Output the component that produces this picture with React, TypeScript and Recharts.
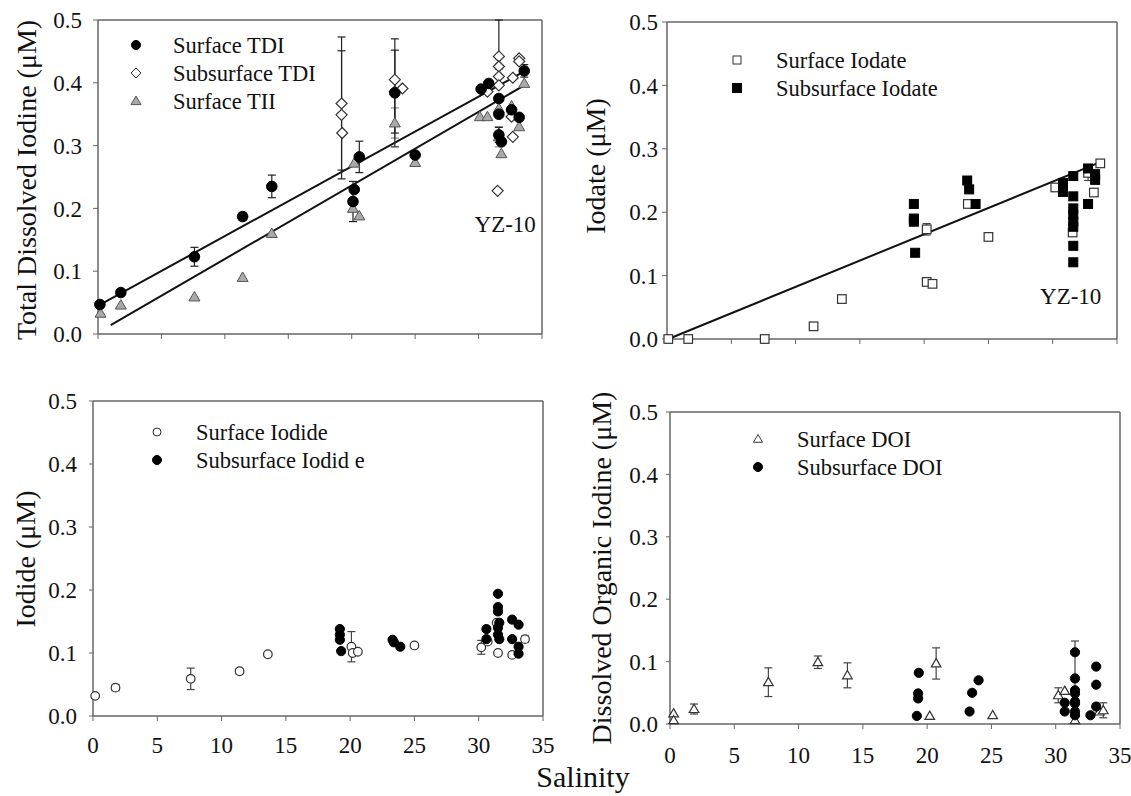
import React from 'react';
import {
  ScatterChart,
  Scatter,
  XAxis,
  YAxis,
  ErrorBar,
  ReferenceLine,
  ReferenceDot,
  Legend,
} from 'recharts';

type P = { s: number; v: number; e?: number | [number, number] };

const xTicks = [0, 5, 10, 15, 20, 25, 30, 35];
const yTicks = [0, 0.1, 0.2, 0.3, 0.4, 0.5];

// Panel 1: Total dissolved iodine
const surfaceTDI: P[] = [
  { s: 0.15, v: 0.047, e: 0.004 }, { s: 1.8, v: 0.066, e: 0.004 }, { s: 7.6, v: 0.123, e: 0.015 },
  { s: 11.4, v: 0.187, e: 0.006 }, { s: 13.7, v: 0.235, e: 0.018 }, { s: 20.2, v: 0.23 },
  { s: 20.1, v: 0.211, e: 0.032 }, { s: 20.6, v: 0.282, e: 0.025 }, { s: 23.4, v: 0.384, e: 0.086 },
  { s: 25.0, v: 0.285, e: 0.004 }, { s: 30.2, v: 0.39 }, { s: 30.8, v: 0.399 },
  { s: 31.6, v: 0.375 }, { s: 31.6, v: 0.35 }, { s: 31.6, v: 0.317, e: 0.012 },
  { s: 31.8, v: 0.306 }, { s: 32.6, v: 0.357 }, { s: 33.2, v: 0.345 }, { s: 33.6, v: 0.419, e: 0.01 },
];
const subsurfaceTDI: P[] = [
  { s: 19.2, v: 0.367, e: 0.106 }, { s: 19.2, v: 0.349, e: 0.102 }, { s: 19.25, v: 0.32 },
  { s: 23.4, v: 0.405 }, { s: 23.4, v: 0.386, e: 0.066 }, { s: 24.0, v: 0.391 },
  { s: 31.6, v: 0.442, e: [0.02, 0.058] }, { s: 31.6, v: 0.426 }, { s: 31.6, v: 0.41 },
  { s: 31.6, v: 0.396 }, { s: 30.7, v: 0.386 }, { s: 31.5, v: 0.228 },
  { s: 32.7, v: 0.408 }, { s: 33.2, v: 0.439 }, { s: 33.2, v: 0.434 },
  { s: 32.6, v: 0.346 }, { s: 32.7, v: 0.314 },
];
const surfaceTII: P[] = [
  { s: 0.2, v: 0.033 }, { s: 1.8, v: 0.046 }, { s: 7.6, v: 0.059 }, { s: 11.4, v: 0.09 },
  { s: 13.7, v: 0.16 }, { s: 20.2, v: 0.272 }, { s: 20.1, v: 0.2 }, { s: 20.6, v: 0.188 },
  { s: 23.4, v: 0.336, e: 0.024 }, { s: 25.0, v: 0.273 }, { s: 30.1, v: 0.346 },
  { s: 30.7, v: 0.346 }, { s: 31.6, v: 0.359 }, { s: 31.6, v: 0.314, e: 0.016 },
  { s: 31.8, v: 0.287 }, { s: 32.6, v: 0.363 }, { s: 33.2, v: 0.33 }, { s: 33.6, v: 0.399 },
];
const tdiFit = [{ x: 0.1, y: 0.046 }, { x: 33.6, y: 0.418 }];
const tiiFit = [{ x: 1.0, y: 0.014 }, { x: 33.6, y: 0.396 }];

// Panel 2: Iodate
const surfaceIodate: P[] = [
  { s: 0.1, v: 0 }, { s: 1.65, v: 0 }, { s: 7.6, v: 0 }, { s: 11.4, v: 0.02 },
  { s: 13.6, v: 0.063, e: 0.005 }, { s: 20.2, v: 0.173, e: 0.009 }, { s: 20.2, v: 0.09 },
  { s: 20.65, v: 0.087 }, { s: 23.4, v: 0.213 }, { s: 25.0, v: 0.161 }, { s: 30.2, v: 0.239 },
  { s: 31.55, v: 0.168 }, { s: 32.75, v: 0.262, e: 0.012 }, { s: 33.2, v: 0.231 }, { s: 33.7, v: 0.277 },
];
const subsurfaceIodate: P[] = [
  { s: 19.2, v: 0.213 }, { s: 19.2, v: 0.19 }, { s: 19.2, v: 0.185 }, { s: 19.3, v: 0.136 },
  { s: 23.35, v: 0.25 }, { s: 23.5, v: 0.236 }, { s: 24.0, v: 0.213 },
  { s: 30.8, v: 0.246 }, { s: 30.8, v: 0.232 },
  { s: 31.6, v: 0.257 }, { s: 31.6, v: 0.225 }, { s: 31.6, v: 0.206 }, { s: 31.6, v: 0.196 },
  { s: 31.6, v: 0.185 }, { s: 31.6, v: 0.177 }, { s: 31.6, v: 0.147 }, { s: 31.6, v: 0.121 },
  { s: 32.75, v: 0.269 }, { s: 32.75, v: 0.213 }, { s: 33.3, v: 0.26 }, { s: 33.3, v: 0.251 },
];
const iodateFit = [{ x: 0.1, y: 0.0 }, { x: 33.7, y: 0.279 }];

// Panel 3: Iodide
const surfaceIodide: P[] = [
  { s: 0.17, v: 0.032, e: 0.003 }, { s: 1.75, v: 0.045, e: 0.005 }, { s: 7.6, v: 0.059, e: 0.017 },
  { s: 11.4, v: 0.071, e: 0.004 }, { s: 13.6, v: 0.098, e: 0.002 }, { s: 20.1, v: 0.11, e: 0.024 },
  { s: 20.2, v: 0.1 }, { s: 20.6, v: 0.102 }, { s: 25.0, v: 0.112 }, { s: 30.2, v: 0.109, e: 0.011 },
  { s: 30.7, v: 0.118 }, { s: 31.5, v: 0.1 }, { s: 31.4, v: 0.148 }, { s: 32.6, v: 0.097 },
  { s: 33.6, v: 0.122, e: 0.005 },
];
const subsurfaceIodide: P[] = [
  { s: 19.2, v: 0.138 }, { s: 19.2, v: 0.129 }, { s: 19.2, v: 0.121 }, { s: 19.3, v: 0.103 },
  { s: 23.3, v: 0.121 }, { s: 23.4, v: 0.117 }, { s: 23.9, v: 0.11 }, { s: 30.6, v: 0.138 },
  { s: 30.6, v: 0.122 }, { s: 31.5, v: 0.194 }, { s: 31.5, v: 0.173 }, { s: 31.5, v: 0.166 },
  { s: 31.6, v: 0.148 }, { s: 31.5, v: 0.14 }, { s: 31.5, v: 0.129 }, { s: 31.6, v: 0.122 },
  { s: 32.6, v: 0.153 }, { s: 32.6, v: 0.122 }, { s: 33.1, v: 0.145 }, { s: 33.1, v: 0.11 },
  { s: 33.1, v: 0.099 },
];

// Panel 4: Dissolved organic iodine
const surfaceDOI: P[] = [
  { s: 0.28, v: 0.017 }, { s: 0.28, v: 0.006 }, { s: 1.87, v: 0.024, e: 0.008 },
  { s: 7.65, v: 0.067, e: 0.023 }, { s: 11.5, v: 0.099, e: 0.01 }, { s: 13.8, v: 0.078, e: 0.02 },
  { s: 20.2, v: 0.013 }, { s: 20.7, v: 0.097, e: 0.025 }, { s: 25.1, v: 0.014 },
  { s: 30.2, v: 0.046, e: 0.012 }, { s: 30.7, v: 0.053 }, { s: 31.5, v: 0.006 },
  { s: 33.4, v: 0.02 }, { s: 33.7, v: 0.022, e: 0.012 },
];
const subsurfaceDOI: P[] = [
  { s: 19.35, v: 0.082 }, { s: 19.3, v: 0.049 }, { s: 19.3, v: 0.041 }, { s: 19.2, v: 0.013 },
  { s: 23.3, v: 0.02 }, { s: 23.5, v: 0.05 }, { s: 24.0, v: 0.07 }, { s: 30.7, v: 0.034 },
  { s: 30.7, v: 0.02 }, { s: 31.5, v: 0.115 }, { s: 31.5, v: 0.073, e: 0.06 }, { s: 31.5, v: 0.054 },
  { s: 31.5, v: 0.049 }, { s: 31.5, v: 0.036 }, { s: 31.5, v: 0.033 }, { s: 31.5, v: 0.02 },
  { s: 31.5, v: 0.014 }, { s: 32.7, v: 0.014 }, { s: 33.15, v: 0.092 }, { s: 33.15, v: 0.063 },
  { s: 33.15, v: 0.028 },
];

const FONT = 'Liberation Serif, Times New Roman, Times, serif';
const AX = '#666';
const TXT = '#111';

type Kind = 'circle' | 'diamond' | 'triangle' | 'square';

function Marker(props: { cx: number; cy: number; kind: Kind; r: number; fill: string; stroke: string; sw?: number }) {
  const { cx, cy, kind, r, fill, stroke } = props;
  const sw = props.sw ?? 1;
  if (cx == null || cy == null || isNaN(cx) || isNaN(cy)) return null;
  if (kind === 'circle') return <circle cx={cx} cy={cy} r={r} fill={fill} stroke={stroke} strokeWidth={sw} />;
  if (kind === 'square')
    return <rect x={cx - r} y={cy - r} width={2 * r} height={2 * r} fill={fill} stroke={stroke} strokeWidth={sw} />;
  if (kind === 'diamond')
    return (
      <polygon
        points={`${cx},${cy - r} ${cx + r},${cy} ${cx},${cy + r} ${cx - r},${cy}`}
        fill={fill}
        stroke={stroke}
        strokeWidth={sw}
      />
    );
  return (
    <polygon
      points={`${cx},${cy - r} ${cx + r},${cy + 0.72 * r} ${cx - r},${cy + 0.72 * r}`}
      fill={fill}
      stroke={stroke}
      strokeWidth={sw}
    />
  );
}

const shape = (kind: Kind, r: number, fill: string, stroke: string, sw = 1) => (p: any) => (
  <Marker cx={p.cx} cy={p.cy} kind={kind} r={r} fill={fill} stroke={stroke} sw={sw} />
);

const RotLabel = (props: any) => {
  const { lx, ly, txt, fs } = props;
  return (
    <text
      x={lx}
      y={ly}
      transform={`rotate(-90 ${lx} ${ly})`}
      textAnchor="middle"
      dominantBaseline="central"
      fontSize={fs}
      fontFamily={FONT}
      fill={TXT}
    >
      {txt}
    </text>
  );
};

const PlainLabel = (props: any) => {
  const { lx, ly, txt, fs } = props;
  return (
    <text x={lx} y={ly} textAnchor="middle" fontSize={fs} fontFamily={FONT} fill={TXT}>
      {txt}
    </text>
  );
};

type LegItem = { kind: Kind; r: number; fill: string; stroke: string; label: string };

const legendEl = (items: LegItem[], mx: number, tx: number, y0: number, dy: number, w: number, h: number) => (
  <Legend
    layout="vertical"
    align="center"
    verticalAlign="middle"
    wrapperStyle={{ left: 0, top: 0, width: w, height: h, pointerEvents: 'none' }}
    content={() => (
      <svg width={w} height={h} style={{ position: 'absolute', left: 0, top: 0 }}>
        {items.map((it, i) => (
          <g key={i}>
            <Marker cx={mx} cy={y0 + i * dy} kind={it.kind} r={it.r} fill={it.fill} stroke={it.stroke} />
            <text x={tx} y={y0 + i * dy + 8} fontSize={22.5} fontFamily={FONT} fill={TXT}>
              {it.label}
            </text>
          </g>
        ))}
      </svg>
    )}
  />
);

const tickStyle = { fontSize: 23, fill: TXT, fontFamily: FONT };
const fmtY = (v: number) => v.toFixed(1);
const noLabel = () => '';

const frame = [
  <ReferenceLine key="ft" y={0.5} stroke={AX} strokeWidth={1.5} />,
  <ReferenceLine key="fr" x={35} stroke={AX} strokeWidth={1.5} />,
];

const GRAY_FILL = '#a9a9a9';

export default function App() {
  return (
    <div style={{ position: 'absolute', left: 0, top: 0, width: 1131, height: 796, background: '#fff', overflow: 'hidden' }}>
      {/* Panel 1 */}
      <div style={{ position: 'absolute', left: 0, top: 0 }}>
        <ScatterChart width={565} height={370} margin={{ top: 20, right: 23, bottom: 0, left: 0 }}>
          <XAxis
            type="number"
            dataKey="s"
            domain={[0, 35]}
            ticks={xTicks}
            interval={0}
            height={36}
            axisLine={{ stroke: AX, strokeWidth: 1.5 }}
            tickLine={{ stroke: AX }}
            tickSize={5}
            tickFormatter={noLabel}
            tick={tickStyle}
          />
          <YAxis
            type="number"
            dataKey="v"
            domain={[0, 0.5]}
            ticks={yTicks}
            interval={0}
            width={98}
            axisLine={{ stroke: AX, strokeWidth: 1.5 }}
            tickLine={{ stroke: AX }}
            tickSize={5}
            tickMargin={11}
            tickFormatter={fmtY}
            tick={tickStyle}
            label={<RotLabel lx={26} ly={180} txt="Total Dissolved Iodine (μM)" fs={28} />}
          />
          {frame}
          <ReferenceLine segment={tdiFit} stroke="#111" strokeWidth={2} />
          <ReferenceLine segment={tiiFit} stroke="#111" strokeWidth={2} />
          <Scatter name="Surface TII" data={surfaceTII} isAnimationActive={false} shape={shape('triangle', 5.5, GRAY_FILL, '#555')}>
            <ErrorBar dataKey="e" direction="y" width={4} stroke="#888" strokeWidth={1.2} />
          </Scatter>
          <Scatter name="Subsurface TDI" data={subsurfaceTDI} isAnimationActive={false} shape={shape('diamond', 5.5, '#fff', '#333', 1.2)}>
            <ErrorBar dataKey="e" direction="y" width={4} stroke="#222" strokeWidth={1.2} />
          </Scatter>
          <Scatter name="Surface TDI" data={surfaceTDI} isAnimationActive={false} shape={shape('circle', 5.3, '#000', '#000')}>
            <ErrorBar dataKey="e" direction="y" width={4} stroke="#222" strokeWidth={1.2} />
          </Scatter>
          <ReferenceDot x={32.1} y={0.175} r={0} fill="none" stroke="none" label={{ value: 'YZ-10', position: 'center', fontSize: 23, fontFamily: FONT, fill: TXT }} />
          {legendEl(
            [
              { kind: 'circle', r: 4.5, fill: '#000', stroke: '#000', label: 'Surface TDI' },
              { kind: 'diamond', r: 5, fill: '#fff', stroke: '#333', label: 'Subsurface TDI' },
              { kind: 'triangle', r: 5, fill: GRAY_FILL, stroke: '#555', label: 'Surface TII' },
            ],
            136,
            173,
            45,
            28,
            565,
            370
          )}
        </ScatterChart>
      </div>

      {/* Panel 2 */}
      <div style={{ position: 'absolute', left: 565, top: 0 }}>
        <ScatterChart width={566} height={370} margin={{ top: 22, right: 14, bottom: 0, left: 0 }}>
          <XAxis
            type="number"
            dataKey="s"
            domain={[0, 35]}
            ticks={xTicks}
            interval={0}
            height={31}
            axisLine={{ stroke: AX, strokeWidth: 1.5 }}
            tickLine={{ stroke: AX }}
            tickSize={5}
            tickFormatter={noLabel}
            tick={tickStyle}
          />
          <YAxis
            type="number"
            dataKey="v"
            domain={[0, 0.5]}
            ticks={yTicks}
            interval={0}
            width={102}
            axisLine={{ stroke: AX, strokeWidth: 1.5 }}
            tickLine={{ stroke: AX }}
            tickSize={5}
            tickMargin={4}
            tickFormatter={fmtY}
            tick={tickStyle}
            label={<RotLabel lx={30} ly={166} txt="Iodate (μM)" fs={28} />}
          />
          {frame}
          <ReferenceLine segment={iodateFit} stroke="#111" strokeWidth={2} />
          <Scatter name="Surface Iodate" data={surfaceIodate} isAnimationActive={false} shape={shape('square', 4.3, '#fff', '#333', 1.2)}>
            <ErrorBar dataKey="e" direction="y" width={4} stroke="#444" strokeWidth={1.2} />
          </Scatter>
          <Scatter name="Subsurface Iodate" data={subsurfaceIodate} isAnimationActive={false} shape={shape('square', 4.5, '#000', '#000')} />
          <ReferenceDot x={31.4} y={0.068} r={0} fill="none" stroke="none" label={{ value: 'YZ-10', position: 'center', fontSize: 23, fontFamily: FONT, fill: TXT }} />
          {legendEl(
            [
              { kind: 'square', r: 4, fill: '#fff', stroke: '#333', label: 'Surface Iodate' },
              { kind: 'square', r: 4.5, fill: '#000', stroke: '#000', label: 'Subsurface Iodate' },
            ],
            172,
            211,
            60,
            28,
            566,
            370
          )}
        </ScatterChart>
      </div>

      {/* Panel 3 */}
      <div style={{ position: 'absolute', left: 0, top: 370 }}>
        <ScatterChart width={640} height={426} margin={{ top: 31, right: 97, bottom: 0, left: 0 }}>
          <XAxis
            type="number"
            dataKey="s"
            domain={[0, 35]}
            ticks={xTicks}
            interval={0}
            height={80}
            axisLine={{ stroke: AX, strokeWidth: 1.5 }}
            tickLine={{ stroke: AX }}
            tickSize={5}
            tickMargin={16}
            tick={tickStyle}
            label={<PlainLabel lx={583} ly={417} txt="Salinity" fs={30} />}
          />
          <YAxis
            type="number"
            dataKey="v"
            domain={[0, 0.5]}
            ticks={yTicks}
            interval={0}
            width={93}
            axisLine={{ stroke: AX, strokeWidth: 1.5 }}
            tickLine={{ stroke: AX }}
            tickSize={4}
            tickMargin={12}
            tickFormatter={fmtY}
            tick={tickStyle}
            label={<RotLabel lx={25} ly={189} txt="Iodide (μM)" fs={28} />}
          />
          {frame}
          <Scatter name="Surface Iodide" data={surfaceIodide} isAnimationActive={false} shape={shape('circle', 4.3, '#fff', '#333', 1.2)}>
            <ErrorBar dataKey="e" direction="y" width={4} stroke="#444" strokeWidth={1.2} />
          </Scatter>
          <Scatter name="Subsurface Iodide" data={subsurfaceIodide} isAnimationActive={false} shape={shape('circle', 4.6, '#000', '#000')} />
          {legendEl(
            [
              { kind: 'circle', r: 4, fill: '#fff', stroke: '#333', label: 'Surface Iodide' },
              { kind: 'circle', r: 4.5, fill: '#000', stroke: '#000', label: 'Subsurface Iodid e' },
            ],
            157,
            196,
            62,
            28,
            640,
            426
          )}
        </ScatterChart>
      </div>

      {/* Panel 4 */}
      <div style={{ position: 'absolute', left: 565, top: 370 }}>
        <ScatterChart width={566} height={426} margin={{ top: 42, right: 11, bottom: 0, left: 0 }}>
          <XAxis
            type="number"
            dataKey="s"
            domain={[0, 35]}
            ticks={xTicks}
            interval={0}
            height={72}
            axisLine={{ stroke: AX, strokeWidth: 1.5 }}
            tickLine={{ stroke: AX }}
            tickSize={5}
            tickMargin={18}
            tick={tickStyle}
          />
          <YAxis
            type="number"
            dataKey="v"
            domain={[0, 0.5]}
            ticks={yTicks}
            interval={0}
            width={105}
            axisLine={{ stroke: AX, strokeWidth: 1.5 }}
            tickLine={{ stroke: AX }}
            tickSize={4}
            tickMargin={8}
            tickFormatter={fmtY}
            tick={tickStyle}
            label={<RotLabel lx={36} ly={198} txt="Dissolved Organic Iodine (μM)" fs={28} />}
          />
          {frame}
          <Scatter name="Surface DOI" data={surfaceDOI} isAnimationActive={false} shape={shape('triangle', 4.8, '#fff', '#333', 1.2)}>
            <ErrorBar dataKey="e" direction="y" width={4} stroke="#444" strokeWidth={1.2} />
          </Scatter>
          <Scatter name="Subsurface DOI" data={subsurfaceDOI} isAnimationActive={false} shape={shape('circle', 4.6, '#000', '#000')}>
            <ErrorBar dataKey="e" direction="y" width={4} stroke="#444" strokeWidth={1.2} />
          </Scatter>
          {legendEl(
            [
              { kind: 'triangle', r: 4.5, fill: '#fff', stroke: '#333', label: 'Surface DOI' },
              { kind: 'circle', r: 4.5, fill: '#000', stroke: '#000', label: 'Subsurface DOI' },
            ],
            193,
            232,
            69,
            28,
            566,
            426
          )}
        </ScatterChart>
      </div>
    </div>
  );
}
